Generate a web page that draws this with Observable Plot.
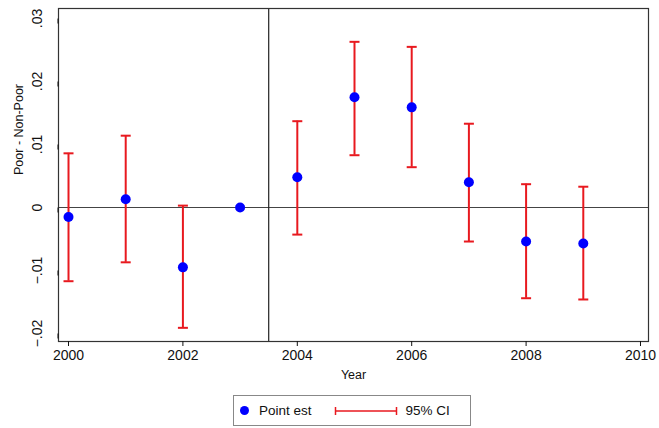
<!DOCTYPE html>
<html>
<head>
<meta charset="utf-8">
<script src="https://cdn.jsdelivr.net/npm/d3@7"></script>
<script src="https://cdn.jsdelivr.net/npm/@observablehq/plot@0.6"></script>
<style>
  body { margin: 0; background: #fff; font-family: "Liberation Sans", Arial, sans-serif; }
  #wrap { width: 659px; }
  #legend {
    margin: 3px 0 0 233px; width: 238px; height: 31px; box-sizing: border-box;
    border: 1px solid #888; display: flex; align-items: center; font-size: 13.5px; color: #111;
  }
  #legend .dot { width: 9px; height: 9px; border-radius: 50%; background: #0000ff; margin-left: 6px; }
  #legend .t1 { margin-left: 10px; }
  #legend svg { margin-left: 22px; }
  #legend .t2 { margin-left: 8px; }
</style>
</head>
<body>
<div id="wrap">
  <div id="chart"></div>
  <div id="legend"><span class="dot"></span><span class="t1">Point est</span>
    <svg width="64" height="12"><line x1="1" y1="6" x2="63" y2="6" stroke="#e8191f" stroke-width="1.5"/><line x1="1.5" y1="2" x2="1.5" y2="10" stroke="#e8191f" stroke-width="1.5"/><line x1="62.5" y1="2" x2="62.5" y2="10" stroke="#e8191f" stroke-width="1.5"/></svg>
    <span class="t2">95% CI</span></div>
</div>
<script>
const years = [2000, 2001, 2002, 2003, 2004, 2005, 2006, 2007, 2008, 2009];
const estimates = [-0.0015, 0.0013, -0.0095, 0, 0.0048, 0.0175, 0.0159, 0.0040, -0.0054, -0.0057];
const ciLow = [-0.0117, -0.0087, -0.0191, 0, -0.0043, 0.0083, 0.0064, -0.0054, -0.0144, -0.0146];
const ciHigh = [0.0086, 0.0114, 0.0003, 0, 0.0137, 0.0263, 0.0255, 0.0133, 0.0037, 0.0033];
const xTicks = [2000, 2002, 2004, 2006, 2008, 2010];
const yTicks = [-0.02, -0.01, 0, 0.01, 0.02, 0.03];
const breakYear = 2003.5;

const rows = years.map((year, i) => ({year, est: estimates[i], lo: ciLow[i], hi: ciHigh[i]}));
const ciRows = rows.filter(d => d.lo !== d.hi);
const fmt = d => d === 0 ? "0" : d3.format(".2f")(d).replace("0.", ".");
const capSymbol = { draw(ctx, size) { ctx.moveTo(-5, 0); ctx.lineTo(5, 0); } };
const red = "#e8191f";

const chart = Plot.plot({
  width: 659,
  height: 392,
  marginLeft: 58,
  marginRight: 11,
  marginTop: 8,
  marginBottom: 51,
  style: { fontFamily: "'Liberation Sans', Arial, sans-serif", fontSize: "14px", color: "#111", background: "#fff" },
  x: { domain: [1999.825, 2010.14] },
  y: { domain: [-0.02127, 0.03159] },
  marks: [
    Plot.ruleY([0], { stroke: "#444", strokeWidth: 1.2 }),
    Plot.ruleX([breakYear], { stroke: "#222", strokeWidth: 1.2 }),
    Plot.ruleX(ciRows, { x: "year", y1: "lo", y2: "hi", stroke: red, strokeWidth: 2 }),
    Plot.dot(ciRows, { x: "year", y: "lo", symbol: capSymbol, stroke: red, strokeWidth: 2, r: 5 }),
    Plot.dot(ciRows, { x: "year", y: "hi", symbol: capSymbol, stroke: red, strokeWidth: 2, r: 5 }),
    Plot.dot(rows, { x: "year", y: "est", r: 5, fill: "#0000ff" }),
    Plot.frame({ stroke: "#333", strokeWidth: 1.2 }),
    Plot.axisX({ ticks: xTicks, tickFormat: d => String(d), tickSize: 5, tickPadding: 4, label: null, fontSize: 14 }),
    Plot.axisY({ ticks: yTicks, tickFormat: fmt, tickSize: 5, tickPadding: 16, rotate: -90, textAnchor: "middle", label: null, fontSize: 14 }),
    Plot.text(["Year"], { frameAnchor: "bottom", dy: 37, text: d => d, fontSize: 12.5 }),
    Plot.text(["Poor - Non-Poor"], { frameAnchor: "left", dx: -40, rotate: -90, text: d => d, fontSize: 12.5 })
  ]
});
document.getElementById("chart").appendChild(chart);
</script>
</body>
</html>
